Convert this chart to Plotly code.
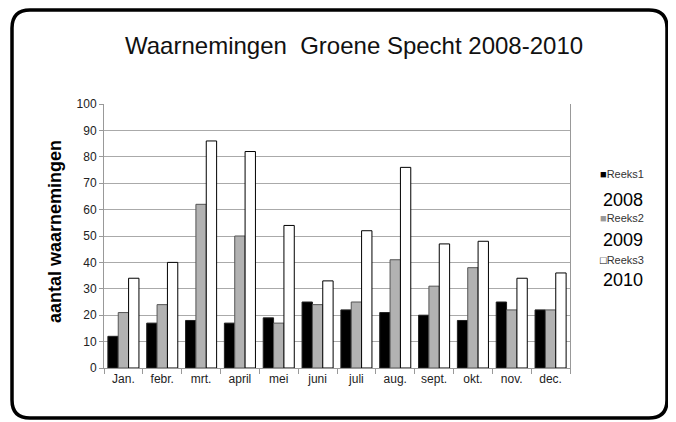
import plotly.graph_objects as go

months = ["Jan.", "febr.", "mrt.", "april", "mei", "juni", "juli", "aug.", "sept.", "okt.", "nov.", "dec."]
reeks1 = [12, 17, 18, 17, 19, 25, 22, 21, 20, 18, 25, 22]
reeks2 = [21, 24, 62, 50, 17, 24, 25, 41, 31, 38, 22, 22]
reeks3 = [34, 40, 86, 82, 54, 33, 52, 76, 47, 48, 34, 36]
names = ["Reeks1", "Reeks2", "Reeks3"]
years = ["2008", "2009", "2010"]
yticks = [0, 10, 20, 30, 40, 50, 60, 70, 80, 90, 100]

OFF = 8  # page body margin
W, H = 676 - OFF, 422 - OFF
ml, mr, mt, mb = 96, 106, 96, 54
pw, ph = W - ml - mr, H - mt - mb

def px(x):
    return (x - OFF - ml) / pw

def py(y):
    return (H - mb - (y - OFF)) / ph

FONT = "Arial, Liberation Sans, sans-serif"
fills = ["#000000", "#b2b2b2", "#ffffff"]
lines = ["#222222", "#555555", "#000000"]

fig = go.Figure()
for i, (vals, nm) in enumerate(zip([reeks1, reeks2, reeks3], names)):
    fig.add_trace(go.Bar(
        x=months, y=vals, name=nm,
        marker=dict(color=fills[i], line=dict(color=lines[i], width=1)),
    ))

def ann(text, x, y, size, color="#000", xanchor="center", **kw):
    return dict(text=text, x=px(x), y=py(y), xref="paper", yref="paper",
                showarrow=False, xanchor=xanchor, yanchor="middle",
                font=dict(family=FONT, size=size, color=color), **kw)

annotations = [
    ann("Waarnemingen  Groene Specht 2008-2010", 354, 45, 24, "#111"),
    ann("<b>aantal waarnemingen</b>", 55, 232, 18, textangle=-90),
]
sym = ["<span style='color:#000'>■</span>", "<span style='color:#999'>■</span>",
       "<span style='color:#000'>□</span>"]
name_y = [174, 218, 260]
year_y = [200, 240, 280]
for i in range(3):
    annotations.append(ann(sym[i] + names[i], 598, name_y[i], 11, "#333", xanchor="left"))
    annotations.append(ann(years[i], 623, year_y[i], 18))

# rounded frame
x0, x1, y0, y1, r = 12, 667, 10, 418, 18
def P(x, y):
    return f"{px(x):.5f},{py(y):.5f}"
path = (f"M {P(x0+r, y0)} L {P(x1-r, y0)} Q {P(x1, y0)} {P(x1, y0+r)} "
        f"L {P(x1, y1-r)} Q {P(x1, y1)} {P(x1-r, y1)} L {P(x0+r, y1)} "
        f"Q {P(x0, y1)} {P(x0, y1-r)} L {P(x0, y0+r)} Q {P(x0, y0)} {P(x0+r, y0)} Z")

fig.update_layout(
    width=W, height=H,
    margin=dict(l=ml, r=mr, t=mt, b=mb),
    paper_bgcolor="white", plot_bgcolor="white",
    barmode="group", bargap=0.2, bargroupgap=0,
    showlegend=False,
    annotations=annotations,
    shapes=[dict(type="path", path=path, xref="paper", yref="paper",
                 line=dict(color="black", width=3.5), layer="above")],
    xaxis=dict(tickson="boundaries", ticks="outside", ticklen=5, tickcolor="#999",
               showline=True, linecolor="#999", showgrid=False,
               tickfont=dict(family=FONT, size=12, color="#222")),
    yaxis=dict(range=[0, 100], tickvals=yticks, ticks="outside", ticklen=4, tickcolor="#999",
               showline=True, linecolor="#999", mirror=True, gridcolor="#aaa",
               tickfont=dict(family=FONT, size=12, color="#222")),
)
fig.write_html("out.html")
